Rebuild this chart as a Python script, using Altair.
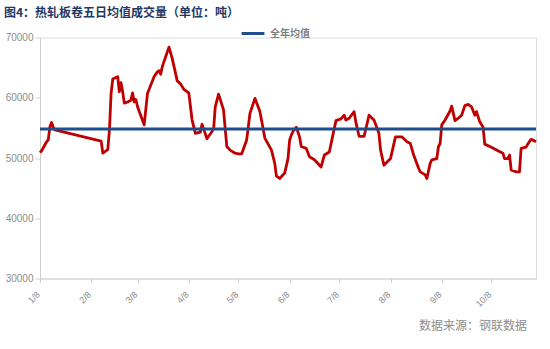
import altair as alt
import pandas as pd

# ---- data ----
dates = [
    "2021-01-08", "2021-01-09", "2021-01-12", "2021-01-13", "2021-01-14", "2021-01-15", "2021-01-16", "2021-01-17",
    "2021-02-14", "2021-02-15", "2021-02-18", "2021-02-19", "2021-02-20", "2021-02-21", "2021-02-24", "2021-02-25",
    "2021-02-26", "2021-02-27", "2021-02-28", "2021-03-02", "2021-03-04", "2021-03-05", "2021-03-06", "2021-03-07",
    "2021-03-08", "2021-03-12", "2021-03-14", "2021-03-15", "2021-03-18", "2021-03-20", "2021-03-21", "2021-03-22",
    "2021-03-23", "2021-03-25", "2021-03-27", "2021-03-29", "2021-04-01", "2021-04-03", "2021-04-05", "2021-04-08",
    "2021-04-10", "2021-04-12", "2021-04-15", "2021-04-16", "2021-04-17", "2021-04-19", "2021-04-22", "2021-04-23",
    "2021-04-24", "2021-04-26", "2021-04-29", "2021-05-01", "2021-05-03", "2021-05-06", "2021-05-08", "2021-05-10",
    "2021-05-13", "2021-05-15", "2021-05-18", "2021-05-21", "2021-05-24", "2021-05-28", "2021-05-30", "2021-05-31",
    "2021-06-02", "2021-06-05", "2021-06-07", "2021-06-08", "2021-06-09", "2021-06-10", "2021-06-12", "2021-06-14",
    "2021-06-15", "2021-06-18", "2021-06-20", "2021-06-23", "2021-06-27", "2021-06-29", "2021-07-02", "2021-07-06",
    "2021-07-09", "2021-07-10", "2021-07-11", "2021-07-12", "2021-07-14", "2021-07-17", "2021-07-18", "2021-07-20",
    "2021-07-23", "2021-07-25", "2021-07-26", "2021-07-29", "2021-08-01", "2021-08-02", "2021-08-04", "2021-08-08",
    "2021-08-11", "2021-08-15", "2021-08-18", "2021-08-20", "2021-08-22", "2021-08-25", "2021-08-26", "2021-08-29",
    "2021-08-30", "2021-09-01", "2021-09-02", "2021-09-05", "2021-09-06", "2021-09-07", "2021-09-08", "2021-09-10",
    "2021-09-13", "2021-09-14", "2021-09-16", "2021-09-18", "2021-09-20", "2021-09-22", "2021-09-24", "2021-09-26",
    "2021-09-28", "2021-09-29", "2021-10-01", "2021-10-03", "2021-10-04", "2021-10-08", "2021-10-12", "2021-10-15",
    "2021-10-16", "2021-10-18", "2021-10-19", "2021-10-20", "2021-10-23", "2021-10-25", "2021-10-26", "2021-10-29",
    "2021-10-30", "2021-11-01", "2021-11-02", "2021-11-04",
]
volumes = [
    50900, 51200, 52700, 53000, 55200, 55900, 55100, 54650,
    52800, 50800, 51400, 54650, 60700, 63100, 63500, 61000,
    62500, 61000, 59100, 59300, 59600, 60800, 59300, 59700,
    58500, 55500, 60700, 61400, 63500, 64300, 64500, 63900,
    65200, 66800, 68400, 66500, 62800, 62300, 61400, 60800,
    56300, 54100, 54300, 55600, 54800, 53200, 54400, 54800,
    58500, 60600, 58000, 51900, 51300, 50800, 50700, 50700,
    53000, 57400, 59900, 57700, 53300, 51300, 49100, 47000,
    46600, 47500, 49900, 53000, 53800, 54400, 55100, 53500,
    51900, 51600, 50200, 49700, 48500, 50500, 51000, 56200,
    56500, 56800, 57100, 56300, 56600, 57700, 56000, 53600,
    53600, 55900, 57100, 56300, 54100, 51300, 48800, 49900,
    53500, 53500, 52700, 52400, 50500, 48300, 47700, 47200,
    46600, 49100, 49700, 49900, 51900, 52400, 55500, 56300,
    57800, 58600, 56200, 56600, 57100, 58700, 58900, 58500,
    57100, 57700, 56000, 55100, 52300, 51800, 51200, 50800,
    49900, 49900, 50500, 48000, 47700, 47700, 51600, 51800,
    52300, 53100, 53000, 52700,
]
mean_label = ["全年均值"]
mean_value = [54800]
tick_months = [1, 2, 3, 4, 5, 6, 7, 8, 9, 10]   # ticks on the 8th of each month
y_ticks = [30000, 35000, 40000, 45000, 50000, 55000, 60000, 65000, 70000]
title_text = ["图4：热轧板卷五日均值成交量（单位：吨）"]
source_text = ["数据来源：钢联数据"]

RED = "#c00000"
BLUE = "#1f4e8c"
GREY = "#8c8c8c"
AXIS = "#cfcfcf"
CJK = "Noto Sans CJK SC"
LAT = "Liberation Sans"

df = pd.DataFrame({"date": dates, "volume": volumes})
mean_df = pd.DataFrame({"series": mean_label, "value": mean_value})

x_scale = alt.Scale(
    type="utc",
    domain=[alt.DateTime(year=2021, month=1, date=8, utc=True),
            alt.DateTime(year=2021, month=11, date=4, utc=True)],
)
y_scale = alt.Scale(domain=[30000, 70000], nice=False, zero=False)

x_axis = alt.Axis(
    title=None,
    values=[alt.DateTime(year=2021, month=m, date=8, utc=True) for m in tick_months],
    labelExpr="utcFormat(datum.value, '%-m/%-d')",
    labelAngle=315,
    labelAlign="right",
    labelBaseline="middle",
    labelPadding=10,
    labelOffset=-2,
    labelFontSize=9,
    labelColor=GREY,
    labelFont=LAT,
    tickColor=AXIS,
    tickSize=4,
    domainColor=AXIS,
    grid=False,
)
y_axis = alt.Axis(
    title=None,
    values=y_ticks,
    format="d",
    labelFontSize=10,
    labelColor=GREY,
    labelFont=LAT,
    labelPadding=2,
    tickColor=AXIS,
    tickSize=5,
    domainColor=AXIS,
    grid=False,
)

line = alt.Chart(df).mark_line(color=RED, strokeWidth=2.8, strokeJoin="round").encode(
    x=alt.X("date:T", scale=x_scale, axis=x_axis),
    y=alt.Y("volume:Q", scale=y_scale, axis=y_axis),
)

mean_rule = alt.Chart(mean_df).mark_rule(strokeWidth=3).encode(
    y=alt.Y("value:Q", scale=y_scale),
    color=alt.Color(
        "series:N",
        scale=alt.Scale(domain=mean_label, range=[BLUE]),
        legend=alt.Legend(
            title=None,
            orient="none",
            legendX=200,
            legendY=-17,
            symbolType="stroke",
            symbolStrokeWidth=3,
            symbolSize=520,
            labelFont=CJK,
            labelFontSize=10,
            labelFontWeight="bold",
            labelColor="#7f7f7f",
            padding=0,
        ),
    ),
)

title = alt.Chart(pd.DataFrame({"t": title_text})).mark_text(
    align="left", baseline="middle", font=CJK, fontSize=12, fontWeight="bold", color="#1f3864"
).encode(text="t:N", x=alt.value(-36), y=alt.value(-25))

source = alt.Chart(pd.DataFrame({"t": source_text})).mark_text(
    align="right", baseline="middle", font=CJK, fontSize=12, color="#8c8c8c"
).encode(text="t:N", x=alt.value(487), y=alt.value(288.5))

chart = alt.layer(line, mean_rule, title, source).properties(
    width=496,
    height=241,
    padding={"left": 40, "top": 37.5, "right": 14, "bottom": 70.5},
    autosize="none",
).configure_view(stroke=None).configure(background="white")

chart.save("out.html", embed_options={"renderer": "svg", "actions": False})
